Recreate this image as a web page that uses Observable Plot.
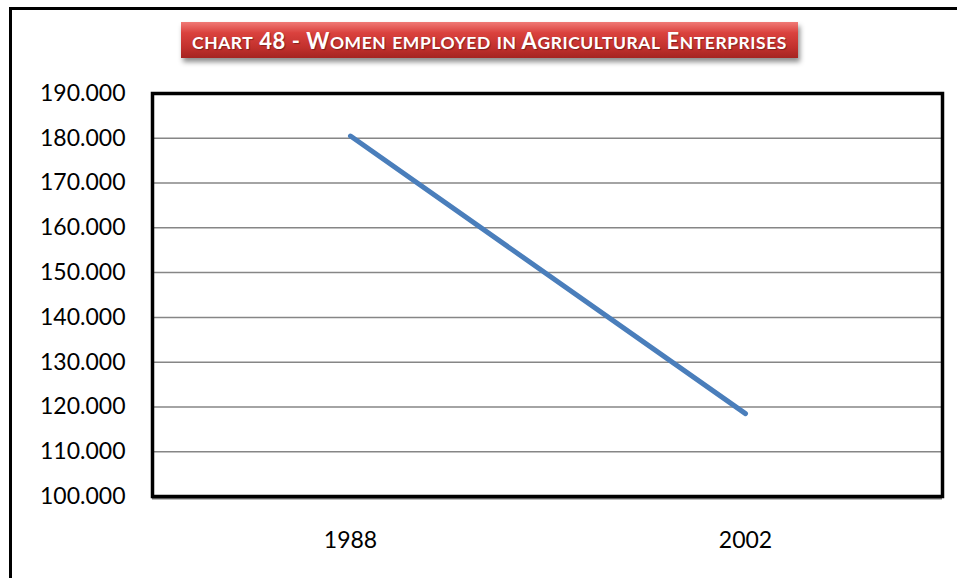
<!DOCTYPE html>
<html>
<head>
<meta charset="utf-8">
<script src="https://cdn.jsdelivr.net/npm/d3@7"></script>
<script src="https://cdn.jsdelivr.net/npm/@observablehq/plot@0.6"></script>
<style>
  html, body { margin: 0; padding: 0; background: #fff; overflow: hidden; }
  #wrap { position: relative; width: 957px; height: 578px; overflow: hidden; }
  #outer { position: absolute; left: 9px; top: 7px; width: 1100px; height: 1100px; border: 3px solid #000; box-sizing: border-box; }
  #title {
    position: absolute; left: 181px; top: 22px; width: 617px; height: 36px;
    background: linear-gradient(#f07a76 0%, #da423e 30%, #c2312d 70%, #a52421 100%);
    box-shadow: 2px 4px 5px rgba(0,0,0,0.45);
    color: #fff; font-family: Lato, sans-serif; font-weight: bold;
    text-align: center; white-space: nowrap;
    text-shadow: 1px 1px 1px rgba(0,0,0,0.35);
  }
  #title span.t { position: absolute; left: 0; right: 0; top: 7px; line-height: 24px; font-size: 22px; }
  #title .sm { font-size: 17.5px; text-transform: uppercase; }
  #chart { position: absolute; left: 0; top: 0; }
</style>
</head>
<body>
<div id="wrap">
  <div id="chart"></div>
  <div id="outer"></div>
  <div id="title"><span class="t" id="ttext"></span></div>
</div>
<script>
const titleText = "chart 48 - Women employed in Agricultural Enterprises";
const years = ["1988", "2002"];
const women = [180500, 118500];
const yTicks = [100000, 110000, 120000, 130000, 140000, 150000, 160000, 170000, 180000, 190000];

// small-caps title: lowercase runs drawn as smaller capitals
const tt = document.getElementById("ttext");
titleText.match(/[a-z]+|[^a-z]+/g).forEach(run => {
  const s = document.createElement("span");
  if (/^[a-z]/.test(run)) s.className = "sm";
  s.textContent = run;
  tt.appendChild(s);
});
// fit title width to ~595px
{
  const r = document.createRange(); r.selectNodeContents(tt);
  const w = r.getBoundingClientRect().width;
  const n = titleText.length;
  tt.style.letterSpacing = ((595 - w) / n) + "px";
}

const data = years.map((y, i) => ({year: y, value: women[i]}));
const fmt = d3.formatLocale({decimal: ",", thousands: ".", grouping: [3], currency: ["", ""]}).format(",d");

const chart = Plot.plot({
  width: 957,
  height: 578,
  marginLeft: 152,
  marginRight: 15,
  marginTop: 93,
  marginBottom: 82,
  style: {fontFamily: "Lato, sans-serif", fontSize: "23px", color: "#000", background: "transparent"},
  x: {type: "point", domain: years, padding: 0.5, label: null},
  y: {domain: [100000, 190000], label: null},
  marks: [
    Plot.gridY(yTicks, {stroke: "#868686", strokeOpacity: 1, strokeWidth: 1.5}),
    Plot.axisY(yTicks, {tickSize: 0, tickPadding: 27, tickFormat: fmt, fontSize: 23, fill: "#000"}),
    Plot.axisX({tickSize: 0, tickPadding: 35, fontSize: 23, fill: "#000"}),
    Plot.ruleY([100000], {stroke: "#777", strokeWidth: 2, dy: 2}),
    Plot.frame({stroke: "#000", strokeWidth: 3.5}),
    Plot.line(data, {x: "year", y: "value", stroke: "#4a7ebb", strokeWidth: 5, strokeLinecap: "round"})
  ]
});
document.getElementById("chart").appendChild(chart);
</script>
</body>
</html>
